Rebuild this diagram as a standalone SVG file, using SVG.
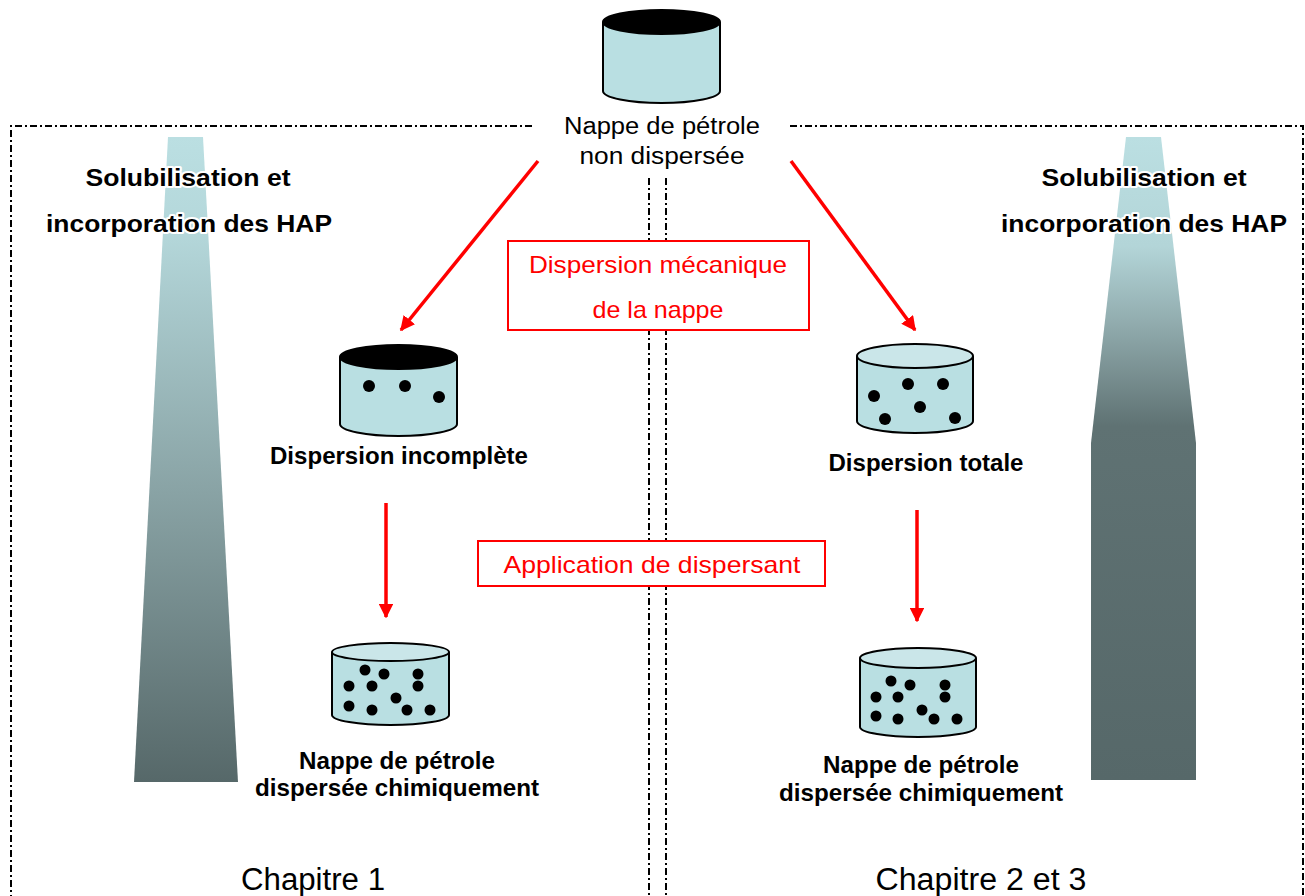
<svg xmlns="http://www.w3.org/2000/svg" width="1305" height="896" viewBox="0 0 1305 896">
<style>
.frame{fill:none;stroke:#000;stroke-width:2;stroke-dasharray:7 3 2 3}
.body{fill:#b9dfe2;stroke:#000;stroke-width:2}
.lid{fill:#cae6e9;stroke:#000;stroke-width:2}
.lidk{fill:#000;stroke:#000;stroke-width:2}
.dot{fill:#000}
.t{font-family:"Liberation Sans",Arial,sans-serif;font-size:23px;fill:#000;text-anchor:middle}
.b{font-weight:bold;font-size:24px}
.r{fill:#ff0000;font-size:24px}
.halo{font-family:"Liberation Sans",Arial,sans-serif;font-size:24px;font-weight:bold;fill:#000;stroke:#fff;stroke-width:4;paint-order:stroke;stroke-linejoin:round;text-anchor:middle}
.chap{font-family:"Liberation Sans",Arial,sans-serif;font-size:31px;fill:#000;text-anchor:middle}
.arrow{stroke:#ff0000;stroke-width:3.5;fill:none}
.lbl{fill:#fff;stroke:#ff0000;stroke-width:2}
</style>
<defs>
<marker id="ah" viewBox="0 0 10 10" refX="9" refY="5" markerWidth="4.2" markerHeight="4.2" orient="auto" markerUnits="strokeWidth">
<path d="M0,0 L10,5 L0,10 Z" fill="#ff0000"/>
</marker>
<linearGradient id="gl" gradientUnits="userSpaceOnUse" x1="0" y1="137" x2="0" y2="782">
<stop offset="0" stop-color="#bbdfe2"/>
<stop offset="0.15" stop-color="#b4d7da"/>
<stop offset="0.55" stop-color="#89a3a5"/>
<stop offset="1" stop-color="#566869"/>
</linearGradient>
<linearGradient id="gr" gradientUnits="userSpaceOnUse" x1="0" y1="137" x2="0" y2="780">
<stop offset="0" stop-color="#bbdfe2"/>
<stop offset="0.17" stop-color="#b3d5d8"/>
<stop offset="0.3" stop-color="#8ea8aa"/>
<stop offset="0.45" stop-color="#5f7273"/>
<stop offset="1" stop-color="#566869"/>
</linearGradient>
</defs>
<rect width="1305" height="896" fill="#fff"/>

<g id="frames">
<path class="frame" d="M532,126 H11 V896"/>
<path class="frame" d="M649,178 V896"/>
<path class="frame" d="M790,126 H1303 V896"/>
<path class="frame" d="M666,178 V896"/>
</g>

<g id="gradient-left">
<polygon points="168,137 203,137 238,782 134,782" fill="url(#gl)"/>
<text class="halo" x="188" y="186" textLength="205" lengthAdjust="spacingAndGlyphs">Solubilisation et</text>
<text class="halo" x="189" y="232" textLength="286" lengthAdjust="spacingAndGlyphs">incorporation des HAP</text>
</g>

<g id="gradient-right">
<polygon points="1126,137 1161,137 1196,443 1196,780 1091,780 1091,443" fill="url(#gr)"/>
<text class="halo" x="1144" y="186" textLength="205" lengthAdjust="spacingAndGlyphs">Solubilisation et</text>
<text class="halo" x="1144" y="232" textLength="286" lengthAdjust="spacingAndGlyphs">incorporation des HAP</text>
</g>

<g id="connectors">
<path class="arrow" d="M538,161 L401,330" marker-end="url(#ah)"/>
<path class="arrow" d="M791,161 L915,330" marker-end="url(#ah)"/>
<path class="arrow" d="M386,503 V617" marker-end="url(#ah)"/>
<path class="arrow" d="M917,510 V621" marker-end="url(#ah)"/>
</g>

<g id="node-top">
<path class="body" d="M603,22 V91 A58.5,12 0 0 0 720,91 V22"/>
<ellipse class="lidk" cx="661.5" cy="22" rx="58.5" ry="12"/>
<text class="t" x="662" y="134" textLength="196" lengthAdjust="spacingAndGlyphs">Nappe de pétrole</text>
<text class="t" x="662" y="164" textLength="165" lengthAdjust="spacingAndGlyphs">non dispersée</text>
</g>

<g id="label-mecanique">
<rect class="lbl" x="508" y="241" width="301" height="89"/>
<text class="t r" x="658" y="273" textLength="258" lengthAdjust="spacingAndGlyphs">Dispersion mécanique</text>
<text class="t r" x="658" y="318" textLength="131" lengthAdjust="spacingAndGlyphs">de la nappe</text>
</g>

<g id="label-dispersant">
<rect class="lbl" x="478" y="541" width="347" height="45"/>
<text class="t r" x="652" y="573" textLength="297" lengthAdjust="spacingAndGlyphs">Application de dispersant</text>
</g>

<g id="node-incomplete">
<path class="body" d="M340,357 V424 A58.5,12 0 0 0 457,424 V357"/>
<ellipse class="lidk" cx="398.5" cy="357" rx="58.5" ry="12"/>
<circle class="dot" cx="369" cy="386" r="6"/>
<circle class="dot" cx="405" cy="386" r="6"/>
<circle class="dot" cx="439" cy="397" r="6"/>
<text class="t b" x="399" y="464" textLength="258" lengthAdjust="spacingAndGlyphs">Dispersion incomplète</text>
</g>

<g id="node-totale">
<path class="body" d="M857,356 V421 A58,12 0 0 0 973,421 V356"/>
<ellipse class="lid" cx="915" cy="356" rx="58" ry="12"/>
<circle class="dot" cx="908" cy="384" r="6"/>
<circle class="dot" cx="943" cy="384" r="6"/>
<circle class="dot" cx="874" cy="396" r="6"/>
<circle class="dot" cx="920" cy="407" r="6"/>
<circle class="dot" cx="885" cy="419" r="6"/>
<circle class="dot" cx="955" cy="418" r="6"/>
<text class="t b" x="926" y="471" textLength="195" lengthAdjust="spacingAndGlyphs">Dispersion totale</text>
</g>

<g id="node-chim-left">
<path class="body" d="M332,652 V715 A58.5,10 0 0 0 449,715 V652"/>
<ellipse class="lid" cx="390.5" cy="652" rx="58.5" ry="9"/>
<circle class="dot" cx="365" cy="670" r="5.5"/>
<circle class="dot" cx="384" cy="674" r="5.5"/>
<circle class="dot" cx="418" cy="674" r="5.5"/>
<circle class="dot" cx="349" cy="686" r="5.5"/>
<circle class="dot" cx="372" cy="686" r="5.5"/>
<circle class="dot" cx="418" cy="686" r="5.5"/>
<circle class="dot" cx="396" cy="698" r="5.5"/>
<circle class="dot" cx="349" cy="706" r="5.5"/>
<circle class="dot" cx="372" cy="710" r="5.5"/>
<circle class="dot" cx="407" cy="710" r="5.5"/>
<circle class="dot" cx="430" cy="710" r="5.5"/>
<text class="t b" x="397" y="769" textLength="196" lengthAdjust="spacingAndGlyphs">Nappe de pétrole</text>
<text class="t b" x="397" y="796" textLength="284" lengthAdjust="spacingAndGlyphs">dispersée chimiquement</text>
</g>

<g id="node-chim-right">
<path class="body" d="M860,658 V727 A58,10 0 0 0 976,727 V658"/>
<ellipse class="lid" cx="918" cy="658" rx="58" ry="10"/>
<circle class="dot" cx="891" cy="681" r="5.5"/>
<circle class="dot" cx="910" cy="685" r="5.5"/>
<circle class="dot" cx="945" cy="685" r="5.5"/>
<circle class="dot" cx="876" cy="697" r="5.5"/>
<circle class="dot" cx="898" cy="697" r="5.5"/>
<circle class="dot" cx="945" cy="697" r="5.5"/>
<circle class="dot" cx="922" cy="710" r="5.5"/>
<circle class="dot" cx="876" cy="716" r="5.5"/>
<circle class="dot" cx="898" cy="719" r="5.5"/>
<circle class="dot" cx="934" cy="719" r="5.5"/>
<circle class="dot" cx="957" cy="719" r="5.5"/>
<text class="t b" x="921" y="773" textLength="196" lengthAdjust="spacingAndGlyphs">Nappe de pétrole</text>
<text class="t b" x="921" y="801" textLength="284" lengthAdjust="spacingAndGlyphs">dispersée chimiquement</text>
</g>

<g id="chapters">
<text class="chap" x="313" y="890" textLength="144" lengthAdjust="spacingAndGlyphs">Chapitre 1</text>
<text class="chap" x="981" y="890" textLength="211" lengthAdjust="spacingAndGlyphs">Chapitre 2 et 3</text>
</g>
</svg>
